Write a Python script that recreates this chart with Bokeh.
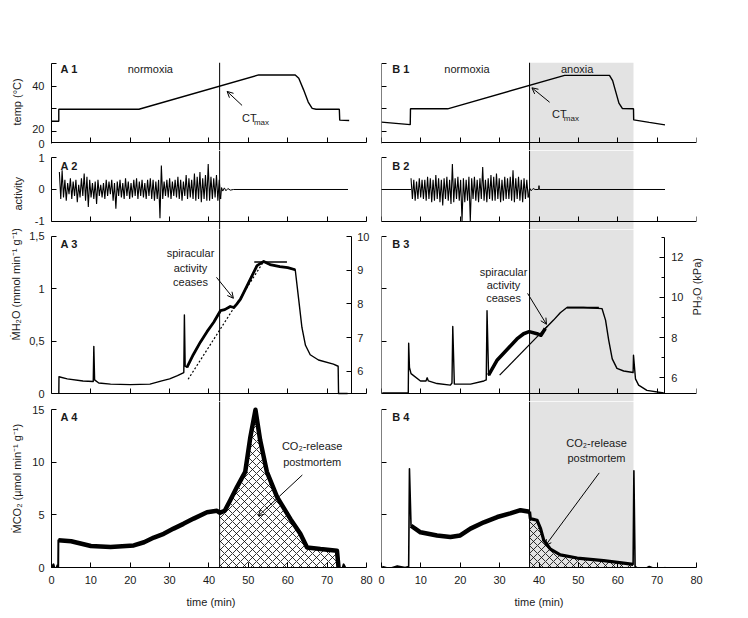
import math
from bokeh.plotting import figure
from bokeh.models import (Range1d, LinearAxis, FixedTicker, BoxAnnotation, Span,
                          Label, Arrow, OpenHead, Title, AllLabels)
from bokeh.layouts import row, column
from bokeh.embed import file_html
from bokeh.resources import INLINE

FONT = "Liberation Sans"
TXT = "#1a1a1a"

# ---------------- data ----------------
TIME_TICKS = [0, 10, 20, 30, 40, 50, 60, 70, 80]
CTMAX_A = 42.7
CTMAX_B = 37.6
ANOXIA_START = 37.6
ANOXIA_END = 64.0

# temperature (deg C); the axis is broken between 20 and 0
A1_t = [0, 1.85, 1.85, 22.2, 52.6, 61.9, 62.8, 64.0, 65.2, 66.2, 67.2, 73.1, 73.2, 75.6]
A1_v = [24.5, 24.5, 29.8, 29.8, 45.0, 45.0, 43.5, 38.5, 33.0, 30.2, 29.8, 29.8, 25.0, 24.8]
B1_t = [0, 7.3, 7.36, 16.8, 46.5, 57.9, 58.7, 59.5, 60.3, 61.2, 64.0, 64.05, 68, 72.0]
B1_v = [24.1, 23.0, 30.0, 30.0, 44.8, 44.8, 42.5, 37.5, 32.5, 30.1, 30.0, 25.1, 24.0, 22.9]
TEMP_AXIS_ZERO = 15          # where the broken axis meets the time axis
TEMP_TICKS = [20, 30, 40, 50]
TEMP_LABEL_TICKS = [14.6, 21.2, 40]
TEMP_LABELS = {14.6: "0", 21.2: "20", 40: "40"}

# activity (sampled every 0.35 min)
A2_T0, A2_DT = 2.0, 0.35
A2_act = [0.55, -0.3, 0.6, -0.25, 0.3, -0.35, 0.2, -0.15, 0.35, -0.3,
          0.25, -0.2, 0.3, -0.4, 0.15, -0.25, 0.35, -0.2, 0.5, -0.35,
          0.4, -0.55, 0.3, -0.25, 0.2, -0.3, 0.25, -0.45, 0.3, -0.2,
          0.15, -0.25, 0.2, -0.3, 0.3, -0.2, 0.25, -0.15, 0.3, -0.35,
          0.2, -0.6, 0.25, -0.2, 0.3, -0.25, 0.2, -0.3, 0.35, -0.2,
          0.25, -0.3, 0.2, -0.25, 0.3, -0.2, 0.35, -0.3, 0.25, -0.2,
          0.3, -0.25, 0.2, -0.3, 0.3, -0.2, 0.35, -0.3, 0.3, -0.35,
          0.25, -0.3, 0.3, -0.9, 0.75, -0.3, 0.25, -0.2, 0.3, -0.25,
          0.35, -0.3, 0.25, -0.2, 0.3, -0.25, 0.4, -0.3, 0.3, -0.35,
          0.25, -0.2, 0.45, -0.3, 0.35, -0.25, 0.3, -0.3, 0.5, -0.35,
          0.4, -0.3, 0.55, -0.4, 0.35, -0.3, 0.45, -0.35, 0.8, -0.35,
          0.4, -0.3, 0.35, -0.25, 0.45, -0.35, 0.3, -0.3]
A2_tail_t = [42.95, 43.2, 43.5, 43.9, 44.3, 44.8, 45.4, 46.2, 75.3]
A2_tail_v = [-0.3, 0.06, -0.05, 0.05, -0.04, 0.03, -0.02, 0, 0]

B2_T0, B2_DT = 7.5, 0.35
B2_act = [0.35, -0.3, 0.3, -0.35, 0.25, -0.3, 0.35, -0.25, 0.3, -0.3,
          0.3, -0.35, 0.4, -0.3, 0.35, -0.4, 0.3, -0.35, 0.45, -0.3,
          0.35, -0.4, 0.3, -0.5, 0.35, -0.3, 0.4, -0.35, 0.3, -0.45,
          0.8, -0.4, 0.35, -0.3, 0.4, -0.35, 0.3, -1.0, 0.35, -0.4,
          0.3, -0.35, 0.4, -1.0, 0.35, -0.3, 0.4, -0.35, 0.3, -0.4,
          0.35, -0.3, 0.7, -0.35, 0.3, -0.4, 0.35, -0.3, 0.45, -0.35,
          0.4, -0.35, 0.5, -0.3, 0.35, -0.4, 0.3, -0.35, 0.4, -0.3,
          0.35, -0.3, 0.4, -0.35, 0.6, -0.4, 0.35, -0.3, 0.4, -0.35,
          0.3, -0.4, 0.35, -0.3, 0.3, -0.25]
B2_lead_t = [0, 7.5]
B2_lead_v = [0, 0]
B2_tail_t = [37.25, 37.6, 38.0, 38.5, 39.0, 39.9, 40.0, 40.1, 72.0]
B2_tail_v = [-0.25, 0.05, -0.04, 0.03, 0, 0, 0.12, 0, 0]

# water release (mmol min-1 g-1)
A3_t = [1.86, 1.9, 4, 8, 10.6, 10.75, 10.95, 12, 15, 20,
        25, 28, 30, 32, 33.6, 33.75, 33.95, 34.4, 36, 37.8,
        39.5, 41.2, 42.9, 44, 45.4, 46.3, 47, 48, 50.1, 52.2,
        53.9, 55.5, 58, 60, 61.9, 62.8, 63.6, 64.5, 65.7, 67.8,
        71.6, 72.8, 72.9, 75.2]
A3_v = [0, 0.16, 0.14, 0.12, 0.115, 0.45, 0.13, 0.1, 0.09, 0.085,
        0.09, 0.12, 0.14, 0.17, 0.2, 0.75, 0.26, 0.25, 0.37, 0.49,
        0.59, 0.68, 0.79, 0.8, 0.83, 0.82, 0.85, 0.9, 1.06, 1.22,
        1.26, 1.23, 1.21, 1.2, 1.18, 0.89, 0.63, 0.46, 0.37, 0.32,
        0.28, 0.26, 0, 0]
A3_fit_t = [34.7, 53.9]
A3_fit_v = [0.136, 1.26]
A3_top_t = [51.5, 59.8]
A3_top_v = [1.255, 1.255]

B3_t = [0.2, 6.8, 6.9, 7.1, 7.5, 9.9, 11.3, 11.6, 11.9, 14.1,
        17.5, 17.9, 18.1, 18.5, 22.6, 26.0, 26.6, 26.8, 27.2, 29.4,
        31.9, 34.4, 36.1, 37.5, 39.5, 40.5, 41.6, 43.7, 45.4, 47.1,
        51.3, 56.0, 56.9, 57.7, 58.6, 59.8, 61.5, 63.9, 64.0, 64.5,
        65.3, 67.4, 71.7]
B3_v = [0.005, 0.005, 0.48, 0.25, 0.19, 0.12, 0.12, 0.15, 0.12, 0.095,
        0.08, 0.1, 0.64, 0.09, 0.09, 0.12, 0.13, 0.79, 0.175, 0.32,
        0.42, 0.52, 0.57, 0.59, 0.57, 0.555, 0.62, 0.70, 0.77, 0.82,
        0.82, 0.81, 0.70, 0.51, 0.33, 0.24, 0.215, 0.2, 0.365, 0.14,
        0.08, 0.03, 0.005]
B3_fit_t = [30.0, 42.1]
B3_fit_v = [0.175, 0.64]
B3_top_t = [47.1, 55.2]
B3_top_v = [0.82, 0.82]

# CO2 release (umol min-1 g-1)
A4_t = [0, 0.5, 1.0, 1.5, 1.7, 1.75, 5, 10, 15, 20.9,
        23.5, 26, 28.5, 31, 33.5, 36.1, 39.5, 42, 42.7, 44,
        45.4, 47.1, 49.2, 50.5, 51.8, 53, 54.7, 57.3, 60.7, 63.2,
        64.9, 68.3, 72.5, 72.9, 73.5, 74.2, 75]
A4_v = [0, 0.3, -0.4, 0.2, 0, 2.6, 2.5, 2.05, 1.95, 2.1,
        2.4, 2.85, 3.2, 3.7, 4.15, 4.65, 5.25, 5.4, 5.2, 5.4,
        6.4, 7.65, 9.1, 12.4, 15.0, 12.1, 9.1, 6.7, 4.6, 3.2,
        1.9, 1.75, 1.6, 0, -0.6, 0.3, -0.3]
B4_t = [0.2, 2, 4, 6, 6.9, 7.1, 7.5, 9.9, 14.1, 17.5,
        20, 22.6, 26, 29.4, 32.7, 35.3, 37.6, 37.8, 39.5, 40.4,
        41.2, 42.9, 45.4, 49.7, 56.4, 61.5, 63.9, 64.1, 64.4, 66,
        68, 70, 72.1]
B4_v = [0.1, -0.1, 0.15, 0.0, 0.1, 9.4, 3.97, 3.35, 3.05, 2.9,
        3.05, 3.7, 4.3, 4.8, 5.15, 5.45, 5.3, 4.65, 4.5, 3.7,
        2.6, 1.75, 1.2, 0.9, 0.65, 0.42, 0.3, 9.2, 0.1, -0.3,
        0.1, -0.2, 0.0]


# ---------------- helpers ----------------
def panel(fh, y0, y1, left, top=0, bottom=0):
    # left column frame is 4 px wider than 80 min so right-axis labels fit
    p = figure(frame_width=319 if left else 315, frame_height=fh,
               x_range=Range1d(0, 81.016 if left else 80), y_range=Range1d(y0, y1),
               min_border_left=51 if left else 4,
               min_border_right=7 if left else 40,
               min_border_top=top, min_border_bottom=bottom,
               output_backend="svg", toolbar_location=None)
    p.grid.visible = False
    p.outline_line_color = None
    p.background_fill_color = "white"
    p.border_fill_color = "white"
    return p


def style_axis(ax):
    ax.axis_line_color = "black"
    ax.axis_line_width = 1
    ax.major_tick_line_color = "black"
    ax.minor_tick_line_color = "black"
    ax.major_tick_in = 5
    ax.major_tick_out = 0
    ax.minor_tick_in = 0
    ax.minor_tick_out = 0
    ax.major_label_text_font = FONT
    ax.major_label_text_font_size = "11px"
    ax.major_label_text_color = TXT
    ax.major_label_policy = AllLabels()
    ax.axis_label_text_font = FONT
    ax.axis_label_text_font_size = "11px"
    ax.axis_label_text_font_style = "normal"
    ax.axis_label_text_color = TXT


def set_x(p, yloc, last):
    ax = p.xaxis[0]
    style_axis(ax)
    ax.ticker = FixedTicker(ticks=TIME_TICKS)
    ax.bounds = (0, 80)
    if last:
        ax.axis_label = "time (min)"
        ax.major_label_standoff = 8
        ax.axis_label_standoff = 9
    else:
        ax.fixed_location = yloc
        ax.major_label_text_color = None


def set_y(p, ticks, bounds, left, label=None, overrides=None, offset=0, standoff=0):
    ax = p.yaxis[0]
    style_axis(ax)
    ax.ticker = FixedTicker(ticks=ticks)
    ax.bounds = bounds
    if left:
        ax.major_label_standoff = 7
        if overrides:
            ax.major_label_overrides = overrides
        p.add_layout(Title(text=label, align="left", offset=offset, standoff=standoff,
                           text_font=FONT, text_font_size="11px",
                           text_font_style="normal", text_color=TXT), "left")
    else:
        ax.fixed_location = 0
        ax.major_label_text_color = None
    return ax


def txt(p, x, y, s, size="11px", bold=False, align="center", angle=0):
    p.add_layout(Label(x=x, y=y, text=s, text_font=FONT, text_font_size=size,
                       text_font_style="bold" if bold else "normal",
                       text_color=TXT, text_align=align, text_baseline="middle",
                       angle=angle))


def arrow(p, x0, y0, x1, y1):
    p.add_layout(Arrow(end=OpenHead(size=6, line_width=1, line_color="black"),
                       x_start=x0, y_start=y0, x_end=x1, y_end=y1,
                       line_width=1, line_color="black"))


def decorate(p, left):
    if left:
        p.add_layout(Span(location=CTMAX_A, dimension="height",
                          line_color="black", line_width=1))
    else:
        p.add_layout(BoxAnnotation(left=ANOXIA_START, right=ANOXIA_END,
                                   fill_color="#e3e3e3", fill_alpha=1,
                                   line_color=None, level="underlay"))
        p.add_layout(Span(location=CTMAX_B, dimension="height",
                          line_color="black", line_width=1))


figs = {}
for side in ("A", "B"):
    left = side == "A"
    # ---- row 1: temperature ----
    p1 = panel(88, 11.55, 50.5, left, top=62)
    decorate(p1, left)
    set_x(p1, TEMP_AXIS_ZERO, False)
    ya = set_y(p1, TEMP_LABEL_TICKS, (14.5, 50), left, "temp (°C)",
               TEMP_LABELS, offset=25, standoff=14)
    # tick marks drawn as minor ticks, labels carried by the major ticks
    ya.ticker = FixedTicker(ticks=TEMP_LABEL_TICKS if left else [], minor_ticks=TEMP_TICKS)
    ya.major_tick_in = 0
    ya.minor_tick_in = 5
    if left:
        p1.line(A1_t, A1_v, line_color="black", line_width=1.4)
        txt(p1, 2.3, 47.6, "A 1", size="11px", bold=True, align="left")
        txt(p1, 25.1, 47.6, "normoxia")
        txt(p1, 48.4, 26.0, "CT", align="left")
        txt(p1, 51.4, 24.0, "max", size="8px", align="left")
        arrow(p1, 48.4, 31.5, 44.6, 37.7)
    else:
        p1.line(B1_t, B1_v, line_color="black", line_width=1.4)
        txt(p1, 2.7, 47.6, "B 1", size="11px", bold=True, align="left")
        txt(p1, 21.7, 47.6, "normoxia")
        txt(p1, 49.7, 47.6, "anoxia")
        txt(p1, 43.3, 27.5, "CT", align="left")
        txt(p1, 46.3, 25.5, "max", size="8px", align="left")
        arrow(p1, 42.7, 32.9, 38.2, 39.3)

    # ---- row 2: activity ----
    p2 = panel(79, -1.252, 1.22, left)
    decorate(p2, left)
    set_x(p2, -1, False)
    set_y(p2, [-1, 0, 1], (-1, 1), left, "activity", {-1: "-1", 0: "0", 1: "1"},
          offset=19, standoff=16)
    if left:
        t = [A2_T0 + i * A2_DT for i in range(len(A2_act))]
        p2.line(t, A2_act, line_color="black", line_width=1.1)
        p2.line(A2_tail_t, A2_tail_v, line_color="black", line_width=1)
        txt(p2, 2.3, 0.74, "A 2", bold=True, align="left")
    else:
        t = [B2_T0 + i * B2_DT for i in range(len(B2_act))]
        p2.line(B2_lead_t, B2_lead_v, line_color="black", line_width=1)
        p2.line(t, B2_act, line_color="black", line_width=1.1)
        p2.line(B2_tail_t, B2_tail_v, line_color="black", line_width=1)
        txt(p2, 2.7, 0.74, "B 2", bold=True, align="left")

    # ---- row 3: water ----
    p3 = panel(172, -0.076, 1.564, left)
    decorate(p3, left)
    set_x(p3, 0, False)
    set_y(p3, [0, 0.5, 1, 1.5], (0, 1.5), left, "ṀH₂O (mmol min⁻¹ g⁻¹)",
          {0: "0", 0.5: "0,5", 1: "1", 1.5: "1,5"}, offset=61, standoff=10)
    if left:
        p3.extra_y_ranges = {"p": Range1d(5.104, 10.208)}
        ra = LinearAxis(y_range_name="p")
        style_axis(ra)
        ra.ticker = FixedTicker(ticks=[6, 7, 8, 9, 10])
        ra.bounds = (5.33, 10)
        ra.fixed_location = 76.1
        ra.major_label_standoff = 6
        p3.add_layout(ra, "right")
        p3.line(A3_t, A3_v, line_color="black", line_width=1.4, line_join="round")
        p3.line(A3_t[17:35], A3_v[17:35], line_color="black", line_width=2.8, line_join="round")
        p3.line(A3_fit_t, A3_fit_v, line_color="black", line_width=1.2, line_dash="2 2")
        p3.line(A3_top_t, A3_top_v, line_color="black", line_width=1.5)
        txt(p3, 2.3, 1.43, "A 3", bold=True, align="left")
        txt(p3, 35.3, 1.338, "spiracular")
        txt(p3, 35.3, 1.195, "activity")
        txt(p3, 35.3, 1.06, "ceases")
        arrow(p3, 41.9, 1.108, 46.2, 0.908)
    else:
        p3.extra_y_ranges = {"p": Range1d(4.821, 13.378)}
        ra = LinearAxis(y_range_name="p")
        style_axis(ra)
        ra.ticker = FixedTicker(ticks=[6, 8, 10, 12], minor_ticks=[7, 9, 11, 13])
        ra.minor_tick_in = 3
        ra.bounds = (5.2, 13)
        ra.fixed_location = 71.8
        ra.major_label_standoff = 7
        p3.add_layout(ra, "right")
        lab = LinearAxis(y_range_name="p", ticker=FixedTicker(ticks=[]),
                         axis_label="PH₂O (kPa)")
        style_axis(lab)
        lab.axis_line_color = None
        lab.axis_label_standoff = 0
        try:
            lab.axis_label_orientation = math.pi / 2
        except Exception:
            pass
        p3.add_layout(lab, "right")
        p3.line(B3_t, B3_v, line_color="black", line_width=1.4, line_join="round")
        p3.line(B3_t[18:27], B3_v[18:27], line_color="black", line_width=3.5, line_join="round")
        p3.line(B3_fit_t, B3_fit_v, line_color="black", line_width=1.2)
        p3.line(B3_top_t, B3_top_v, line_color="black", line_width=1.8)
        txt(p3, 2.7, 1.43, "B 3", bold=True, align="left")
        txt(p3, 31.0, 1.155, "spiracular")
        txt(p3, 31.0, 1.035, "activity")
        txt(p3, 31.0, 0.914, "ceases")
        arrow(p3, 37.1, 0.955, 41.9, 0.66)

    # ---- row 4: CO2 ----
    p4 = panel(166, 0, 15.79, left, bottom=48)
    decorate(p4, left)
    set_x(p4, 0, True)
    set_y(p4, [0, 5, 10, 15], (0, 15), left, "ṀCO₂ (µmol min⁻¹ g⁻¹)", None,
          offset=34, standoff=14)
    if left:
        p4.varea(x=A4_t[18:34], y1=0, y2=A4_v[18:34], fill_alpha=0,
                 hatch_pattern="diagonal_cross", hatch_color="black",
                 hatch_scale=8, hatch_weight=0.8)
        p4.line(A4_t, A4_v, line_color="black", line_width=2, line_join="round")
        p4.line(A4_t[5:34], A4_v[5:34], line_color="black", line_width=4.5, line_join="round")
        txt(p4, 2.3, 14.27, "A 4", bold=True, align="left")
        txt(p4, 66.2, 11.6, "CO₂-release")
        txt(p4, 66.2, 10.0, "postmortem")
        arrow(p4, 63.7, 8.8, 52.5, 4.9)
    else:
        p4.varea(x=B4_t[16:27], y1=0, y2=B4_v[16:27], fill_alpha=0,
                 hatch_pattern="diagonal_cross", hatch_color="black",
                 hatch_scale=8, hatch_weight=0.8)
        p4.line(B4_t, B4_v, line_color="black", line_width=1.6, line_join="round")
        p4.line(B4_t[6:17], B4_v[6:17], line_color="black", line_width=4.5, line_join="round")
        p4.line(B4_t[16:27], B4_v[16:27], line_color="black", line_width=3.2, line_join="round")
        txt(p4, 2.7, 14.27, "B 4", bold=True, align="left")
        txt(p4, 54.6, 11.8, "CO₂-release")
        txt(p4, 54.6, 10.4, "postmortem")
        arrow(p4, 55.3, 9.0, 41.6, 2.07)

    figs[side] = [p1, p2, p3, p4]

layout = row(column(*figs["A"]), column(*figs["B"]))
open("out.html", "w").write(file_html(layout, INLINE, title="thermal limits"))
